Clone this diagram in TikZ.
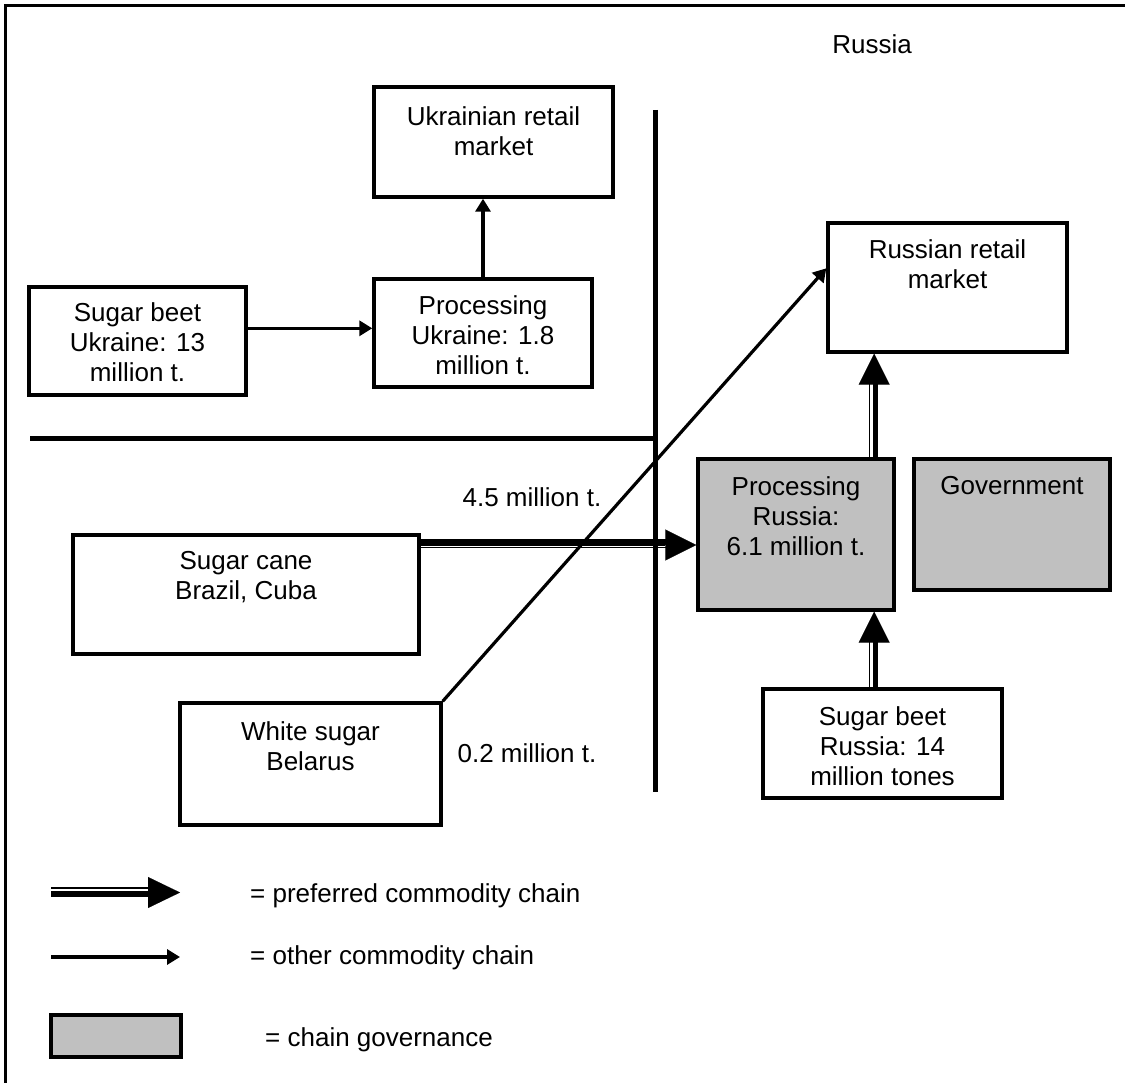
\documentclass[tikz,border=0pt]{standalone}
\usepackage{fontspec}
\setmainfont{Liberation Sans}
\usetikzlibrary{arrows.meta,calc}
\definecolor{govgray}{RGB}{192,192,192}
\begin{document}
\begin{tikzpicture}[x=1pt,y=-1pt,
  box/.style={draw, line width=3.4pt, inner sep=0pt},
  govbox/.style={box, fill=govgray},
  lbl/.style={font=\fontsize{26}{30}\selectfont, align=center, inner sep=0pt, anchor=north},
  txt/.style={font=\fontsize{26}{30}\selectfont, inner sep=0pt},
  divider/.style={line width=5pt},
  other/.style={line width=3.2pt, -{Triangle[length=13pt,width=15pt]}},
  pthick/.style={line width=5.8pt, shorten >=29pt},
  pthin/.style={line width=1.6pt, shorten >=29pt},
  phead/.style={line width=0.1pt, -{Triangle[length=31pt,width=31pt]}},
]
\useasboundingbox (0,0) rectangle (1125,1083);

% frame (top and left edges)
\draw[line width=3pt] (5,1083) -- (5,6) -- (1125,6);

% border lines between regions
\coordinate (vTop) at (655,110);
\coordinate (vBot) at (655,792);
\coordinate (hL) at (30,438);
\draw[divider] (vTop) -- (vBot);
\draw[divider] (hL) -- (hL -| vTop);

\node[txt, anchor=base] (russia) at (872,54) {Russia};

% boxes
\node[box, minimum width=239pt, minimum height=110pt] (ukRet) at (493.5,142) {};
\node[box, minimum width=218pt, minimum height=108pt] (ukProc) at (483,333) {};
\node[box, minimum width=217pt, minimum height=108pt] (ukBeet) at (137.5,341) {};
\node[box, minimum width=239pt, minimum height=129pt] (ruRet) at (947.5,287.5) {};
\node[govbox, minimum width=196pt, minimum height=151pt] (ruProc) at (796,534.5) {};
\node[govbox, minimum width=196pt, minimum height=131pt] (gov) at (1012,524.5) {};
\node[box, minimum width=346pt, minimum height=119pt] (cane) at (246,594.5) {};
\node[box, minimum width=261pt, minimum height=122pt] (belarus) at (310.5,764) {};
\node[box, minimum width=239pt, minimum height=109pt] (ruBeet) at (882.5,743.5) {};

% box texts
\node[lbl] (ukRetT) at ([yshift=-21pt]ukRet.north) {Ukrainian retail\\market};
\node[lbl] (ukProcT) at ([yshift=-18pt]ukProc.north) {Processing\\Ukraine: 1.8\\million t.};
\node[lbl] (ukBeetT) at ([yshift=-17pt]ukBeet.north) {Sugar beet\\Ukraine: 13\\million t.};
\node[lbl] (ruRetT) at ([yshift=-18pt]ruRet.north) {Russian retail\\market};
\node[lbl] (ruProcT) at ([yshift=-19pt]ruProc.north) {Processing\\Russia:\\6.1 million t.};
\node[lbl] (govT) at ([yshift=-19pt]gov.north) {Government};
\node[lbl] (caneT) at ([yshift=-18pt]cane.north) {Sugar cane\\Brazil, Cuba};
\node[lbl] (belarusT) at ([yshift=-20pt]belarus.north) {White sugar\\Belarus};
\node[lbl] (ruBeetT) at ([yshift=-19pt]ruBeet.north) {Sugar beet\\Russia: 14\\million tones};

% flow quantities
\node[txt, anchor=base] (q45) at (532,506) {4.5 million t.};
\node[txt, anchor=base] (q02) at (527,762) {0.2 million t.};

% other commodity chains
\draw[other] (ukProc.north) -- (ukProc.north |- ukRet.south);
\coordinate (ub) at ($(ukBeet.north east)+(0,43)$);
\draw[other] (ub) -- (ub -| ukProc.west);
\coordinate (rrTip) at ($(ruRet.north west)+(0,47)$);
\draw[other] (belarus.north east) -- (rrTip);

% preferred chain: cane -> processing Russia
\coordinate (hA) at ($(cane.north east)+(0,11.7)$);
\coordinate (hB) at (hA -| ruProc.west);
\draw[pthick] ([yshift=3.2pt]hA) -- ([yshift=3.2pt]hB);
\draw[pthin] ([yshift=-2.6pt]hA) -- ([yshift=-2.6pt]hB);
\draw[phead] (hA) -- (hB);

% preferred chain: processing Russia -> retail
\coordinate (vA) at ($(ruProc.north east)+(-21.5,0)$);
\coordinate (vB) at (vA |- ruRet.south);
\draw[pthick] ([xshift=1.3pt]vA) -- ([xshift=1.3pt]vB);
\draw[pthin] ([xshift=-4.8pt]vA) -- ([xshift=-4.8pt]vB);
\draw[phead] (vA) -- (vB);

% preferred chain: beet Russia -> processing Russia
\coordinate (wA) at (vA |- ruBeet.north);
\coordinate (wB) at (vA |- ruProc.south);
\draw[pthick] ([xshift=1.3pt]wA) -- ([xshift=1.3pt]wB);
\draw[pthin] ([xshift=-4.8pt]wA) -- ([xshift=-4.8pt]wB);
\draw[phead] (wA) -- (wB);

% legend
\coordinate (lpA) at (51,892.5);
\coordinate (lpB) at (180,892.5);
\draw[pthick, shorten >=31pt] ([yshift=-1.8pt]lpA) -- ([yshift=-1.8pt]lpB);
\draw[pthin, shorten >=31pt] ([yshift=4.6pt]lpA) -- ([yshift=4.6pt]lpB);
\draw[line width=0.1pt, -{Triangle[length=32pt,width=31pt]}] (lpA) -- (lpB);
\node[txt, anchor=base west] (lpT) at (250,902) {= preferred commodity chain};

\coordinate (loA) at (51,957);
\coordinate (loB) at (180,957);
\draw[other] (loA) -- (loB);
\node[txt, anchor=base west] (loT) at (250,964) {= other commodity chain};

\node[govbox, minimum width=130pt, minimum height=42pt] (lg) at (116,1036) {};
\node[txt, anchor=base west] (lgT) at (265,1046) {= chain governance};
\end{tikzpicture}
\end{document}
